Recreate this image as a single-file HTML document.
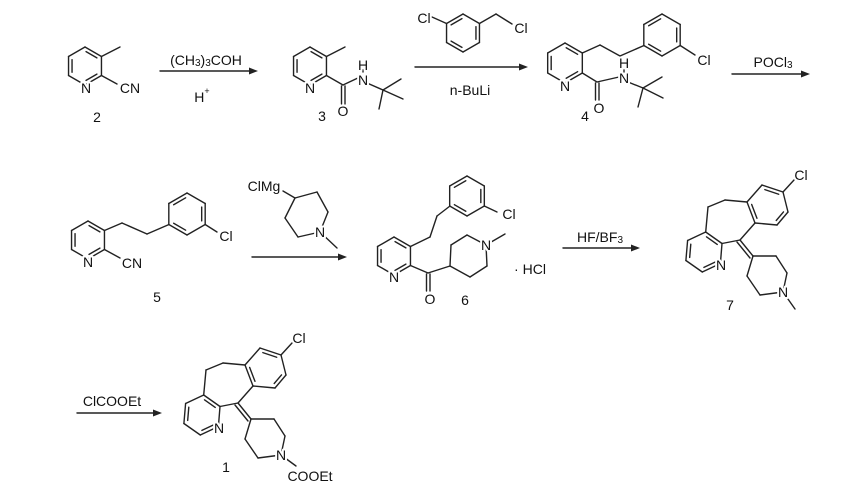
<!DOCTYPE html>
<html><head><meta charset="utf-8">
<style>
html,body{margin:0;padding:0;background:#fff;}
svg{display:block}
text{font-family:"Liberation Sans",Arial,sans-serif;font-size:14px;fill:#111;paint-order:stroke;stroke:#fff;stroke-width:4px;stroke-linejoin:round;}
text.n{text-anchor:middle;dominant-baseline:central;}
text.r{stroke-width:0}
</style></head>
<body>
<svg id="s" width="865" height="486" viewBox="0 0 865 486" xmlns="http://www.w3.org/2000/svg">
<g id="b" stroke="#222" stroke-width="1.4" fill="none" stroke-linecap="round"></g>
<g id="t">
<text class="n" x="86" y="88">N</text>
<text class="n" x="130" y="88">CN</text>
<text class="n r" x="97" y="117">2</text>
<text class="n r" x="206" y="60">(CH<tspan font-size="10" dy="3">3</tspan><tspan dy="-3">)</tspan><tspan font-size="10" dy="3">3</tspan><tspan dy="-3">COH</tspan></text>
<text class="n r" x="202" y="97">H<tspan font-size="9" dy="-6">+</tspan></text>
<text class="n" x="310" y="88">N</text>
<text class="n" x="343" y="111">O</text>
<text class="n" x="363" y="80">N</text>
<text class="n" x="363" y="65">H</text>
<text class="n r" x="322" y="116">3</text>
<text class="n" x="424" y="18">Cl</text>
<text class="n" x="521" y="28">Cl</text>
<text class="n r" x="470" y="90">n-BuLi</text>
<text class="n" x="565" y="86">N</text>
<text class="n" x="599" y="108">O</text>
<text class="n" x="624" y="78">N</text>
<text class="n" x="624" y="63">H</text>
<text class="n" x="704" y="60">Cl</text>
<text class="n r" x="585" y="116">4</text>
<text class="n r" x="773" y="62">POCl<tspan font-size="10" dy="3">3</tspan></text>
<text class="n" x="88" y="262">N</text>
<text class="n" x="132" y="263">CN</text>
<text class="n" x="226" y="236">Cl</text>
<text class="n r" x="157" y="297">5</text>
<text class="n" x="264" y="186">ClMg</text>
<text class="n" x="320" y="232">N</text>
<text class="n" x="394" y="277">N</text>
<text class="n" x="430" y="299">O</text>
<text class="n" x="486" y="245">N</text>
<text class="n" x="509" y="214">Cl</text>
<text class="n r" x="530" y="269">· HCl</text>
<text class="n r" x="465" y="300">6</text>
<text class="n r" x="600" y="237">HF/BF<tspan font-size="10" dy="3">3</tspan></text>
<text class="n" x="801" y="175">Cl</text>
<text class="n" x="721" y="265">N</text>
<text class="n" x="783" y="292">N</text>
<text class="n r" x="730" y="305">7</text>
<text class="n r" x="112" y="401">ClCOOEt</text>
<text class="n" x="299" y="338">Cl</text>
<text class="n" x="219" y="428">N</text>
<text class="n" x="281" y="455">N</text>
<text class="n" x="310" y="476">COOEt</text>
<text class="n r" x="226" y="467">1</text>
</g>
</svg>
<script>
var g=document.getElementById('b'),t=document.getElementById('t'),NS="http://www.w3.org/2000/svg";
function L(a,b,c,d){var l=document.createElementNS(NS,'line');l.setAttribute('x1',a);l.setAttribute('y1',b);l.setAttribute('x2',c);l.setAttribute('y2',d);g.appendChild(l);}
function P(pts){for(var i=0;i+1<pts.length;i++)L(pts[i][0],pts[i][1],pts[i+1][0],pts[i+1][1]);}
function inner(a,b,c){var dx=c[0]-(a[0]+b[0])/2,dy=c[1]-(a[1]+b[1])/2,m=Math.hypot(dx,dy);dx=dx/m*3.5;dy=dy/m*3.5;
 var f=0.17;var x1=a[0]+(b[0]-a[0])*f+dx,y1=a[1]+(b[1]-a[1])*f+dy,x2=b[0]+(a[0]-b[0])*f+dx,y2=b[1]+(a[1]-b[1])*f+dy;L(x1,y1,x2,y2);}
function ringPts(v,dbl){var cx=0,cy=0;v.forEach(function(p){cx+=p[0];cy+=p[1]});cx/=v.length;cy/=v.length;
 for(var i=0;i<v.length;i++){var a=v[i],b=v[(i+1)%v.length];L(a[0],a[1],b[0],b[1]);}
 (dbl||[]).forEach(function(i){inner(v[i],v[(i+1)%v.length],[cx,cy]);});return v;}
function hex(cx,cy,r,rot,dbl){var v=[];for(var i=0;i<6;i++){var a=(-90+rot+60*i)*Math.PI/180;v.push([cx+r*Math.cos(a),cy+r*Math.sin(a)]);}return ringPts(v,dbl);}
function arrow(x1,x2,y){L(x1,y,x2-6,y);var p=document.createElementNS(NS,'polygon');p.setAttribute('points',(x2-9)+','+(y-3.5)+' '+x2+','+y+' '+(x2-9)+','+(y+3.5));p.setAttribute('fill','#222');p.setAttribute('stroke','none');g.appendChild(p);}
function dblv(x1,y1,x2,y2,o){L(x1,y1,x2,y2);L(x1+o,y1,x2+o,y2);}
var r=hex(85,66,19,0,[0,2,4]);L(r[1][0],r[1][1],120,47);L(r[2][0],r[2][1],117,84);
arrow(160,258,71);
r=hex(310,66,19,0,[0,2,4]);L(r[1][0],r[1][1],345,47);L(r[2][0],r[2][1],343,85);
dblv(341.5,86,341.5,104,3.5);L(343,85,360,77);L(363,72,363,70);L(367,83,383,90);L(383,90,401,79);L(383,90,403,99);L(383,90,379,109);
r=hex(463,33,19,0,[1,3,5]);L(r[5][0],r[5][1],432,17);P([r[1],[496,14],[512,24]]);
arrow(415,528,67);
r=hex(565,63,20,0,[0,2,4]);P([r[1],[600,45],[620,56],[644,45.5]]);L(r[2][0],r[2][1],597,82);
dblv(595.5,83,595.5,100,3.5);L(597,82,619,77);L(624,72,624,70);L(628,82,643,88);L(643,88,662,77);L(643,88,663,98);L(643,88,638,107);
var b=hex(662,35,21,0,[1,3,5]);L(b[2][0],b[2][1],695,55);
arrow(732,810,74);
r=hex(88,240,19,0,[0,2,4]);L(r[2][0],r[2][1],120,258);P([r[1],[122,223],[147,234],[169,224.5]]);
b=hex(187,214,21,0,[1,3,5]);L(b[2][0],b[2][1],217,232);
ringPts([[295,198],[317,192],[328,212],[320,232],[298,237],[285,218]]);L(295,198,283,191);L(320,232,337,248);
arrow(252,347,257);
r=hex(394,256,19,0,[0,2,4]);P([r[1],[430,237],[437,216],[450,206]]);
b=hex(467,196,20,0,[1,3,5]);L(b[2][0],b[2][1],497,212);
L(r[2][0],r[2][1],428,273);dblv(426.5,274,426.5,291,3.5);L(428,273,450,266);
ringPts([[450,266],[451,245],[467,235],[486,245],[487,266],[470,277]]);L(486,245,505,234);
arrow(563,640,248);
function lor(dx,dy,last){
 function s(p){return [p[0]+dx,p[1]+dy];}
 var B=[[762,185],[783,192],[788,212],[777,225],[755,223],[747,202]].map(s);ringPts(B,[0,2,4]);
 var Cl=s([794,180]);L(B[1][0],B[1][1],Cl[0],Cl[1]);
 P([B[5],s([725,200]),s([708,207]),s([705.7,232])]);
 var Pv=[[705.7,232],[722,243.5],[720.4,263.5],[702.3,272],[685.9,260.5],[687.6,240.5]].map(s);ringPts(Pv,[0,2,4]);
 var C=s([740,240]);L(Pv[1][0],Pv[1][1],C[0],C[1]);L(C[0],C[1],B[4][0],B[4][1]);
 var Q=[[753,256],[776,256],[787,273],[783,292],[760,295],[747,276]].map(s);ringPts(Q);
 L(C[0],C[1],Q[0][0],Q[0][1]);L(C[0]-3,C[1]+2,Q[0][0]-3,Q[0][1]+2);
 var e=s(last);L(Q[3][0],Q[3][1],e[0],e[1]);
}
lor(0,0,[795,309]);
lor(-502,163,[798,303]);
arrow(77,162,413);
t.parentNode.appendChild(t);
</script>
</body></html>
